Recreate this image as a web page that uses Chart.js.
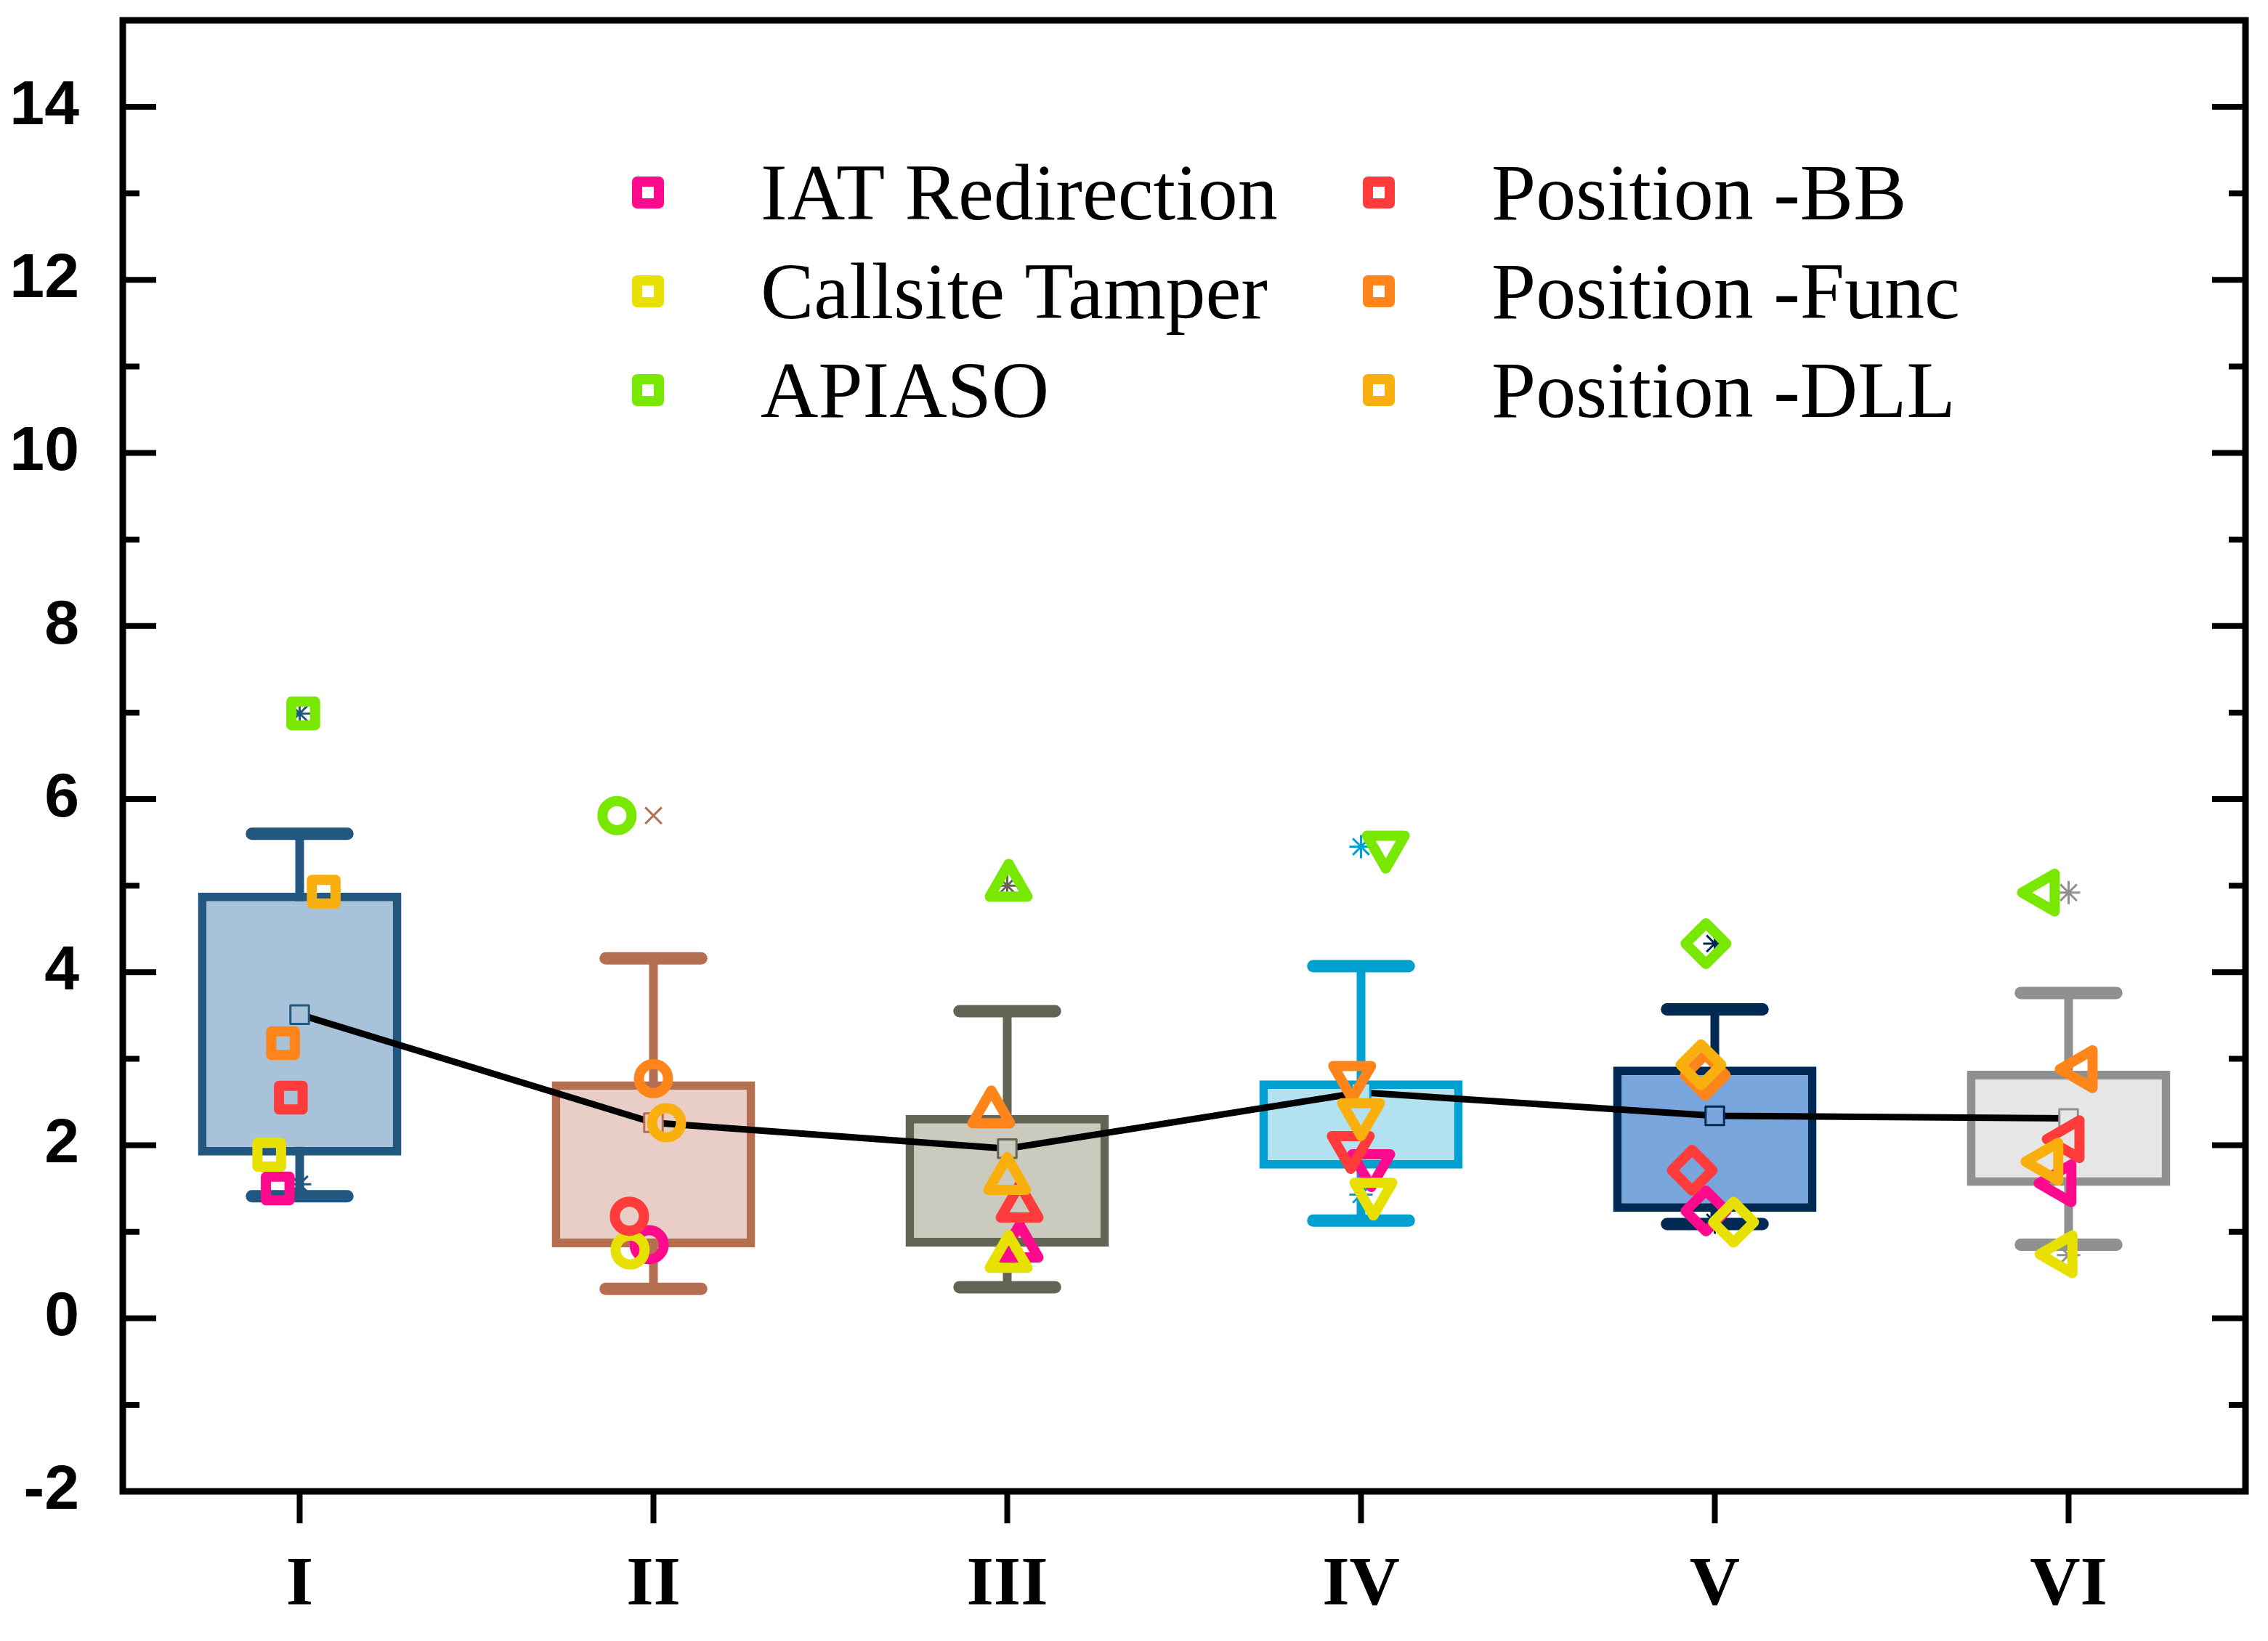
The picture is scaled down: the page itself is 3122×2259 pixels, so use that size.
<!DOCTYPE html>
<html>
<head>
<meta charset="utf-8">
<script src="https://cdn.jsdelivr.net/npm/chart.js@4.4.1/dist/chart.umd.min.js"></script>
<style>
  html, body { margin: 0; padding: 0; background: #fff; }
  #wrap { width: 3122px; height: 2259px; }
</style>
</head>
<body>
<div id="wrap"><canvas id="chart" width="3122" height="2259"></canvas></div>
<script>
var groups = ['I', 'II', 'III', 'IV', 'V', 'VI'];

// box statistics
var boxLow = [1.88, 0.82, 0.83, 1.73, 1.23, 1.53];
var boxHigh = [4.92, 2.74, 2.35, 2.75, 2.91, 2.86];
var whiskerLow = [1.41, 0.34, 0.36, 1.13, 1.09, 0.85];
var whiskerHigh = [5.60, 4.16, 3.55, 4.07, 3.57, 3.76];
var means = [3.51, 2.26, 1.96, 2.61, 2.34, 2.31];
var dataMax = [6.99, 5.81, 5.00, 5.45, 4.33, 4.92];
var dataMin = [1.55, 0.80, 0.71, 1.43, 1.11, 0.73];

// one value per group for each method
var iatRedirection = [1.50, 0.85, 0.83, 1.77, 1.24, 1.56];
var callsiteTamper = [1.89, 0.79, 0.71, 1.44, 1.11, 0.74];
var apiaso = [6.99, 5.81, 5.00, 5.45, 4.33, 4.92];
var positionBB = [2.55, 1.18, 1.29, 1.98, 1.71, 2.07];
var positionFunc = [3.18, 2.77, 2.38, 2.79, 2.81, 2.88];
var positionDLL = [4.93, 2.26, 1.61, 2.36, 2.93, 1.81];

// horizontal jitter of the points (in group units)
var iatJitter = [-0.062, -0.012, 0.035, 0.029, -0.025, -0.023];
var callsiteJitter = [-0.086, -0.066, 0.004, 0.035, 0.053, -0.020];
var apiasoJitter = [0.010, -0.103, 0.004, 0.070, -0.025, -0.070];
var bbJitter = [-0.025, -0.068, 0.035, -0.029, -0.064, 0.000];
var funcJitter = [-0.047, 0.000, -0.045, -0.025, -0.027, 0.037];
var dllJitter = [0.068, 0.037, 0.000, 0.000, -0.039, -0.060];

var boxBorder = ['#22577F', '#B46E50', '#646454', '#00A0D0', '#002A54', '#909090'];
var boxFill = ['#A8C2DA', '#E8CEC6', '#CACABE', '#B2E2F0', '#78A6DC', '#E6E6E6'];

// marker shape per group
var groupStyle = ['rect', 'circle', 'triangle', 'triangle', 'rectRot', 'triangle'];
var groupRotation = [0, 0, 0, 180, 0, 270];
var groupRadius = [23, 20, 30, 30, 28, 30];
var extremeStyle = ['star', 'crossRot', 'star', 'star', 'star', 'star'];

function methodSet(label, vals, jit, color, order) {
    return {
        type: 'scatter',
        label: label,
        order: order,
        data: groups.map(function (g, i) { return { x: i + 1 + jit[i], y: vals[i] }; }),
        borderColor: color,
        backgroundColor: 'rgba(0,0,0,0)',
        pointStyle: function (c) { return groupStyle[c.dataIndex]; },
        rotation: function (c) { return groupRotation[c.dataIndex]; },
        pointRadius: function (c) { return groupRadius[c.dataIndex]; },
        pointBorderWidth: 14,
        clip: false
    };
}

var whiskerPlugin = {
    id: 'whiskers',
    beforeDatasetsDraw: function (chart) {
        var ctx = chart.ctx, xs = chart.scales.x, ys = chart.scales.y;
        ctx.save();
        for (var i = 0; i < groups.length; i++) {
            var cx = xs.getPixelForValue(i + 1);
            var half = xs.getPixelForValue(i + 1.135) - cx;
            ctx.strokeStyle = boxBorder[i];
            ctx.lineCap = 'butt';
            ctx.lineWidth = 12;
            ctx.beginPath();
            ctx.moveTo(cx, ys.getPixelForValue(whiskerLow[i]));
            ctx.lineTo(cx, ys.getPixelForValue(whiskerHigh[i]));
            ctx.stroke();
            ctx.lineCap = 'round';
            ctx.lineWidth = 17;
            [whiskerLow[i], whiskerHigh[i]].forEach(function (v) {
                var py = ys.getPixelForValue(v);
                ctx.beginPath();
                ctx.moveTo(cx - half, py);
                ctx.lineTo(cx + half, py);
                ctx.stroke();
            });
        }
        ctx.restore();
        ctx.lineJoin = 'round';
    }
};

var framePlugin = {
    id: 'frame',
    afterDatasetsDraw: function (chart) {
        var ctx = chart.ctx, a = chart.chartArea, xs = chart.scales.x, ys = chart.scales.y;
        ctx.save();
        ctx.strokeStyle = '#000';
        ctx.lineJoin = 'miter';
        ctx.lineCap = 'butt';
        ctx.lineWidth = 9;
        ctx.strokeRect(a.left, a.top, a.right - a.left, a.bottom - a.top);
        ctx.lineWidth = 8;
        for (var v = -1; v <= 14; v++) {
            var py = ys.getPixelForValue(v);
            var len = v % 2 === 0 ? 46 : 23;
            ctx.beginPath();
            ctx.moveTo(a.left, py); ctx.lineTo(a.left + len, py);
            ctx.moveTo(a.right, py); ctx.lineTo(a.right - len, py);
            ctx.stroke();
        }
        for (var i = 0; i < groups.length; i++) {
            var px = xs.getPixelForValue(i + 1);
            ctx.beginPath();
            ctx.moveTo(px, a.bottom); ctx.lineTo(px, a.bottom + 44);
            ctx.stroke();
        }
        ctx.restore();
    }
};

var legendPlugin = {
    id: 'boxLegend',
    afterDraw: function (chart) {
        var ctx = chart.ctx, a = chart.chartArea;
        var sets = chart.data.datasets.filter(function (d) { return d.isMethod; });
        ctx.save();
        ctx.font = '110px "Liberation Serif", "Times New Roman", serif';
        ctx.textBaseline = 'alphabetic';
        ctx.textAlign = 'left';
        ctx.lineJoin = 'round';
        sets.forEach(function (d, k) {
            var col = Math.floor(k / 3), row = k % 3;
            var mx = a.left + 723 + col * 1006;
            var my = a.top + 237 + row * 136;
            ctx.strokeStyle = d.borderColor;
            ctx.lineWidth = 14;
            ctx.strokeRect(mx - 15, my - 15, 30, 30);
            ctx.fillStyle = '#000';
            ctx.fillText(d.label, mx + 155, my + 37);
        });
        ctx.restore();
    }
};

var datasets = [
    methodSet('IAT Redirection', iatRedirection, iatJitter, '#FF0A8C', 6),
    methodSet('Callsite Tamper', callsiteTamper, callsiteJitter, '#E8E000', 5),
    methodSet('APIASO', apiaso, apiasoJitter, '#78E800', 4),
    methodSet('Position -BB', positionBB, bbJitter, '#FF3B3B', 3),
    methodSet('Position -Func', positionFunc, funcJitter, '#FF841A', 2),
    methodSet('Position -DLL', positionDLL, dllJitter, '#F9B00F', 1)
];
datasets.forEach(function (d) { d.isMethod = true; });

datasets.push({
    type: 'scatter',
    label: 'extremes',
    order: 7,
    data: groups.map(function (g, i) { return { x: i + 1, y: dataMax[i] }; })
        .concat(groups.map(function (g, i) { return { x: i + 1, y: dataMin[i] }; })),
    pointStyle: function (c) { return extremeStyle[c.dataIndex % 6]; },
    borderColor: function (c) { return boxBorder[c.dataIndex % 6]; },
    pointRadius: 16,
    pointBorderWidth: 3
});

datasets.push({
    type: 'line',
    label: 'mean',
    order: 8,
    data: groups.map(function (g, i) { return { x: i + 1, y: means[i] }; }),
    borderColor: '#000',
    borderWidth: 9,
    tension: 0,
    pointStyle: 'rect',
    pointRadius: 18,
    pointBorderWidth: 3,
    pointBorderColor: boxBorder,
    pointBackgroundColor: boxFill
});

datasets.push({
    type: 'bar',
    label: 'box',
    order: 9,
    data: groups.map(function (g, i) { return { x: i + 1, y: [boxLow[i], boxHigh[i]] }; }),
    backgroundColor: boxFill,
    borderColor: boxBorder,
    borderWidth: 12,
    borderSkipped: false,
    barPercentage: 0.575,
    categoryPercentage: 1
});

function noMargins(s) {
    s.paddingTop = 0;
    s.paddingBottom = 0;
    s.paddingLeft = 0;
    s.paddingRight = 0;
}

var chart = new Chart('chart', {
    type: 'bar',
    data: { datasets: datasets },
    options: {
        responsive: false,
        animation: false,
        devicePixelRatio: 1,
        layout: { autoPadding: false, padding: { top: 28, right: 31, left: 0, bottom: 0 } },
        plugins: {
            legend: { display: false },
            tooltip: { enabled: false }
        },
        scales: {
            x: {
                type: 'linear',
                offset: false,
                min: 0.5,
                max: 6.5,
                grid: { display: false },
                border: { display: false },
                afterBuildTicks: function (s) {
                    s.ticks = groups.map(function (g, i) { return { value: i + 1 }; });
                },
                afterFit: function (s) { s.height = 206; noMargins(s); },
                ticks: {
                    callback: function (v) { return groups[v - 1]; },
                    color: '#000',
                    padding: 66,
                    maxRotation: 0,
                    font: { family: '"Liberation Serif", "Times New Roman", serif', weight: 'bold', size: 96 }
                }
            },
            y: {
                min: -2,
                max: 15,
                grid: { display: false },
                border: { display: false },
                afterBuildTicks: function (s) {
                    var t = [];
                    for (var v = -2; v <= 14; v += 2) t.push({ value: v });
                    s.ticks = t;
                },
                afterFit: function (s) { s.width = 169; noMargins(s); },
                ticks: {
                    color: '#000',
                    padding: 52,
                    font: { family: '"Liberation Sans", Arial, sans-serif', weight: 'bold', size: 86 }
                }
            }
        }
    },
    plugins: [whiskerPlugin, framePlugin, legendPlugin]
});
</script>
</body>
</html>
